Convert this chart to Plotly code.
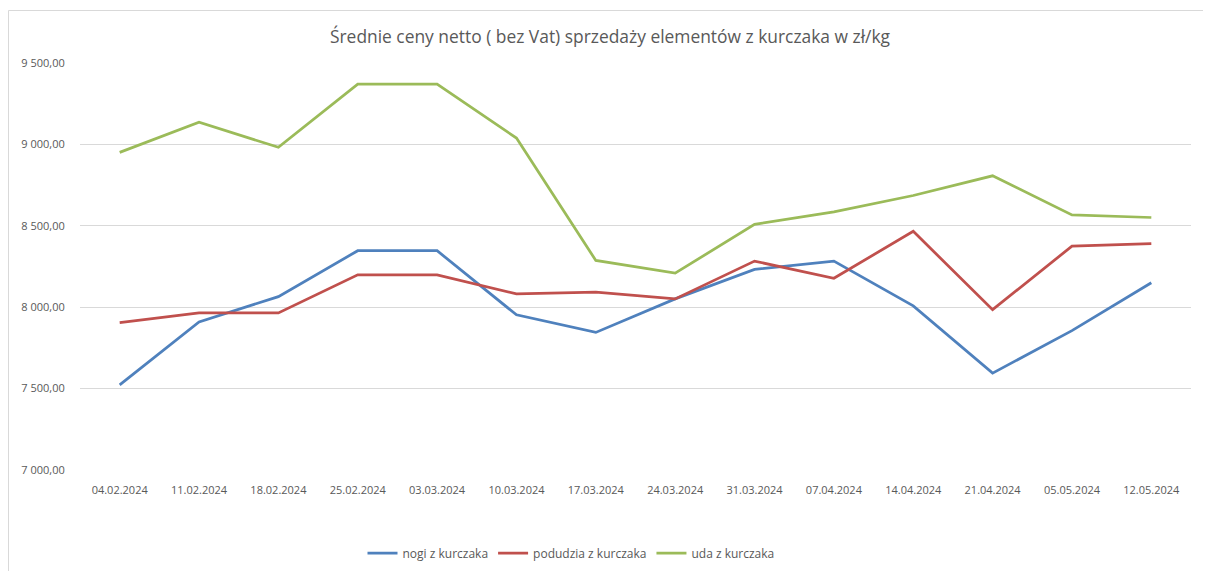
import plotly.graph_objects as go

dates = ["04.02.2024", "11.02.2024", "18.02.2024", "25.02.2024", "03.03.2024",
         "10.03.2024", "17.03.2024", "24.03.2024", "31.03.2024", "07.04.2024",
         "14.04.2024", "21.04.2024", "05.05.2024", "12.05.2024"]

nogi = [7523, 7909, 8065, 8347, 8347, 7953, 7845, 8051, 8232, 8283, 8008, 7595, 7856, 8150]
podudzia = [7905, 7965, 7965, 8199, 8199, 8082, 8092, 8051, 8283, 8178, 8466, 7985, 8375, 8390]
uda = [8951, 9136, 8982, 9370, 9370, 9039, 8287, 8209, 8509, 8585, 8686, 8807, 8567, 8551]

series_names = ["nogi z kurczaka", "podudzia z kurczaka", "uda z kurczaka"]
colors = ["#4F81BD", "#C0504D", "#9BBB59"]

y_ticks = [7000, 7500, 8000, 8500, 9000, 9500]

fig = go.Figure()
for name, vals, col in zip(series_names, [nogi, podudzia, uda], colors):
    fig.add_trace(go.Scatter(x=dates, y=vals, mode="lines", name=name,
                             line=dict(color=col, width=2.75)))

font_family = "Open Sans, Liberation Sans, sans-serif"

# page body has an 8px margin, so the figure is sized/offset to compensate
W, H = 1203, 563
L, T = 72, 55
PW, PH = 1111, 407

fig.update_layout(
    width=W, height=H,
    margin=dict(l=L, r=W - L - PW, t=T, b=H - T - PH, autoexpand=False),
    paper_bgcolor="white", plot_bgcolor="white",
    separators=", ",
    title=dict(text="Średnie ceny netto ( bez Vat) sprzedaży elementów z kurczaka w zł/kg",
               x=(610 - 8) / W, xanchor="center", y=1 - (37 - 8) / H, yanchor="middle",
               font=dict(family=font_family, size=17.4, color="#595959")),
    xaxis=dict(type="category", range=[-0.5, 13.5], showgrid=False, showline=False,
               ticks="outside", ticklen=10, tickcolor="rgba(0,0,0,0)", automargin=False,
               tickfont=dict(family=font_family, size=11, color="#595959"),
               fixedrange=True),
    yaxis=dict(range=[7000, 9500], tickvals=y_ticks, tickformat=",.2f",
               showgrid=True, gridcolor="#D9D9D9", gridwidth=1, zeroline=False,
               showline=False, ticks="outside", ticklen=12, tickcolor="rgba(0,0,0,0)",
               automargin=False,
               tickfont=dict(family=font_family, size=11, color="#595959")),
    legend=dict(orientation="h", x=(571 - 80) / PW, xanchor="center",
                y=-(553 - 470) / PH, yanchor="middle",
                font=dict(family=font_family, size=12, color="#595959"),
                itemwidth=30, tracegroupgap=0),
    showlegend=True,
)

# chart frame (left edge drawn at the figure's own left edge)
fig.add_shape(type="rect", xref="paper", yref="paper",
              x0=(0.5 - L) / PW, x1=(1240 - L) / PW,
              y0=-(600 - 470) / PH, y1=1 + (63 - 10.5) / PH,
              line=dict(color="#D9D9D9", width=1), fillcolor="rgba(0,0,0,0)", layer="below")

fig.write_html("out.html")
